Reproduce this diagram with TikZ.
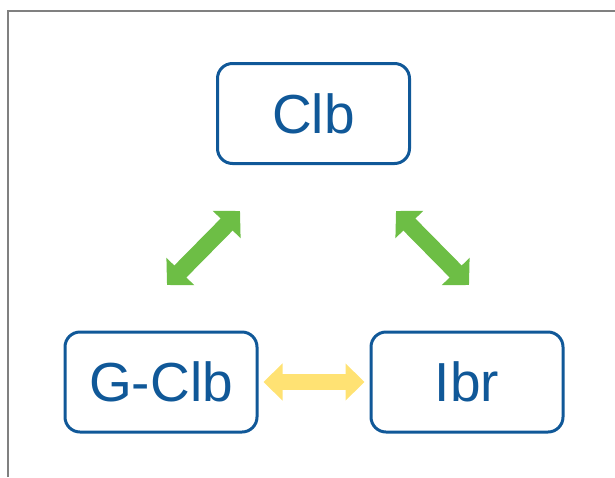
\documentclass[tikz,border=0pt]{standalone}
\usepackage{fontspec}
\setmainfont{Liberation Sans}
\definecolor{boxblue}{RGB}{16, 88, 152}
\definecolor{linkgreen}{RGB}{109, 190, 69}
\definecolor{linkyellow}{RGB}{255, 226, 115}
\definecolor{framegray}{RGB}{128, 128, 128}
\usetikzlibrary{arrows.meta, positioning}

\begin{document}
\begin{tikzpicture}[
        x=1pt, y=-1pt,
        module/.style={rectangle, draw=boxblue, line width=3pt, rounded corners=15pt,
                       minimum width=192pt, minimum height=100pt, inner sep=0pt,
                       text=boxblue, font=\fontsize{55}{60}\selectfont},
        greenlink/.style={linkgreen, line width=17pt,
                          {Triangle[length=19pt, width=38pt]}-{Triangle[length=19pt, width=38pt]}},
        yellowlink/.style={linkyellow, line width=16pt,
                           {Triangle[length=19pt, width=36pt]}-{Triangle[length=19pt, width=36pt]}}
    ]
        \useasboundingbox (0,0) rectangle (615,477);

        % Frame (cut off on the right and bottom)
        \draw[framegray, line width=2pt] (8,477) |- (615,11);

        % Modules
        \node[module] (clb) at (313.5,113.5) {Clb};
        \node[module] (gclb) at (161,382) {G-Clb};
        \node[module] (ibr) at (467,382) {Ibr};

        % Arrow ends
        \coordinate (lefttop) at (240,211);
        \coordinate (leftbot) at (167,285);
        \coordinate (righttop) at (396,211);
        \coordinate (rightbot) at (469,285);

        % Links
        \draw[greenlink] (leftbot) -- (lefttop);
        \draw[greenlink] (righttop) -- (rightbot);
        \draw[yellowlink] ([xshift=5pt]gclb.east) -- ([xshift=-5pt]ibr.west);
    \end{tikzpicture}
\end{document}
